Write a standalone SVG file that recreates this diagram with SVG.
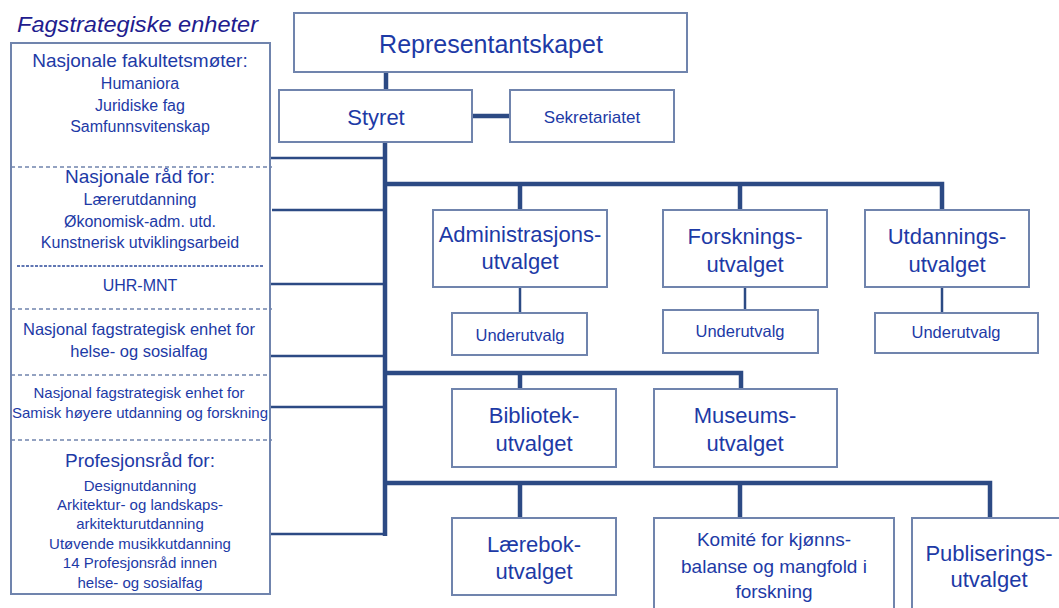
<svg xmlns="http://www.w3.org/2000/svg" width="1059" height="608" viewBox="0 0 1059 608">
<style>
.bx{fill:#fff;stroke:#7084ad;stroke-width:2}
.t{font-family:"Liberation Sans",Arial,sans-serif;fill:#1d3aa6;text-anchor:middle}
.thk{stroke:#2c4a84;stroke-width:4.5;fill:none}
.thn{stroke:#2c4a84;stroke-width:2.5;fill:none}
.ds{stroke:#7084ad;stroke-width:1.5;stroke-dasharray:4 3}
</style>
<rect width="1059" height="608" fill="#fff"/>
<g id="connectors">
<line class="thk" x1="386" y1="72" x2="386" y2="90"/>
<line class="thk" x1="472" y1="116" x2="510" y2="116"/>
<line class="thk" x1="385" y1="142" x2="385" y2="536"/>
<polyline class="thk" points="385,184 942,184 942,210"/>
<line class="thk" x1="520" y1="184" x2="520" y2="210"/>
<line class="thk" x1="740" y1="184" x2="740" y2="210"/>
<polyline class="thk" points="385,373 741,373 741,389"/>
<line class="thk" x1="520" y1="373" x2="520" y2="389"/>
<polyline class="thk" points="385,483 990,483 990,518"/>
<line class="thk" x1="520" y1="483" x2="520" y2="518"/>
<line class="thk" x1="740" y1="483" x2="740" y2="518"/>
<line class="thn" x1="520" y1="287" x2="520" y2="313"/>
<line class="thn" x1="745" y1="287" x2="745" y2="310"/>
<line class="thn" x1="942" y1="287" x2="942" y2="313"/>
<line class="thn" x1="270" y1="158" x2="385" y2="158"/>
<line class="thn" x1="272" y1="210" x2="385" y2="210"/>
<line class="thn" x1="270" y1="284" x2="385" y2="284"/>
<line class="thn" x1="270" y1="356" x2="385" y2="356"/>
<line class="thn" x1="270" y1="407" x2="385" y2="407"/>
<line class="thn" x1="270" y1="534" x2="385" y2="534"/>
</g>
<g id="fagstrategiske">
<text x="17" y="32" font-family="Liberation Sans,Arial,sans-serif" font-style="italic" font-size="22" fill="#221c8e" textLength="241" lengthAdjust="spacingAndGlyphs">Fagstrategiske enheter</text>
<rect class="bx" x="11" y="43" width="259" height="551"/>
<line class="ds" x1="11" y1="167" x2="272" y2="167"/>
<line x1="17" y1="266" x2="263" y2="266" stroke="#2c4a9a" stroke-width="1.5" stroke-dasharray="3 1.5"/>
<line class="ds" x1="11" y1="309" x2="272" y2="309"/>
<line class="ds" x1="11" y1="375" x2="270" y2="375"/>
<line class="ds" x1="11" y1="440" x2="272" y2="440"/>
<text class="t" x="140" y="67" font-size="19">Nasjonale fakultetsmøter:</text>
<text class="t" x="140" y="89" font-size="16">Humaniora</text>
<text class="t" x="140" y="111" font-size="16">Juridiske fag</text>
<text class="t" x="140" y="132" font-size="16">Samfunnsvitenskap</text>
<text class="t" x="140" y="183" font-size="19">Nasjonale råd for:</text>
<text class="t" x="140" y="205" font-size="16">Lærerutdanning</text>
<text class="t" x="140" y="227" font-size="16">Økonomisk-adm. utd.</text>
<text class="t" x="140" y="248" font-size="16">Kunstnerisk utviklingsarbeid</text>
<text class="t" x="140" y="291" font-size="16">UHR-MNT</text>
<text class="t" x="139" y="335" font-size="16.5">Nasjonal fagstrategisk enhet for</text>
<text class="t" x="139" y="357" font-size="16.5">helse- og sosialfag</text>
<text class="t" x="139" y="398" font-size="15">Nasjonal fagstrategisk enhet for</text>
<text class="t" x="140" y="418" font-size="15">Samisk høyere utdanning og forskning</text>
<text class="t" x="140" y="467" font-size="19">Profesjonsråd for:</text>
<text class="t" x="140" y="491" font-size="15">Designutdanning</text>
<text class="t" x="140" y="510" font-size="15">Arkitektur- og landskaps-</text>
<text class="t" x="140" y="529" font-size="15">arkitekturutdanning</text>
<text class="t" x="140" y="549" font-size="15">Utøvende musikkutdanning</text>
<text class="t" x="140" y="568" font-size="15">14 Profesjonsråd innen</text>
<text class="t" x="140" y="588" font-size="15">helse- og sosialfag</text>
</g>
<g id="representantskapet">
<rect class="bx" x="294" y="13" width="393" height="59"/>
<text class="t" x="491" y="53" font-size="25">Representantskapet</text>
</g>
<g id="styret">
<rect class="bx" x="279" y="90" width="193" height="52"/>
<text class="t" x="376" y="125" font-size="22">Styret</text>
</g>
<g id="sekretariatet">
<rect class="bx" x="510" y="90" width="164" height="52"/>
<text class="t" x="592" y="123" font-size="17">Sekretariatet</text>
</g>
<g id="administrasjonsutvalget">
<rect class="bx" x="433" y="210" width="174" height="77"/>
<text class="t" x="520" y="242" font-size="22">Administrasjons-</text>
<text class="t" x="520" y="269" font-size="22">utvalget</text>
</g>
<g id="admin-underutvalg">
<rect class="bx" x="452" y="313" width="135" height="42"/>
<text class="t" x="520" y="341" font-size="16.5">Underutvalg</text>
</g>
<g id="forskningsutvalget">
<rect class="bx" x="663" y="210" width="164" height="77"/>
<text class="t" x="745" y="244" font-size="22">Forsknings-</text>
<text class="t" x="745" y="272" font-size="22">utvalget</text>
</g>
<g id="forskning-underutvalg">
<rect class="bx" x="663" y="310" width="155" height="43"/>
<text class="t" x="740" y="337" font-size="16.5">Underutvalg</text>
</g>
<g id="utdanningsutvalget">
<rect class="bx" x="865" y="210" width="164" height="77"/>
<text class="t" x="947" y="244" font-size="22">Utdannings-</text>
<text class="t" x="947" y="272" font-size="22">utvalget</text>
</g>
<g id="utdanning-underutvalg">
<rect class="bx" x="875" y="313" width="163" height="40"/>
<text class="t" x="956" y="338" font-size="16.5">Underutvalg</text>
</g>
<g id="bibliotekutvalget">
<rect class="bx" x="452" y="389" width="164" height="78"/>
<text class="t" x="534" y="423" font-size="22">Bibliotek-</text>
<text class="t" x="534" y="451" font-size="22">utvalget</text>
</g>
<g id="museumsutvalget">
<rect class="bx" x="654" y="389" width="183" height="78"/>
<text class="t" x="745" y="423" font-size="22">Museums-</text>
<text class="t" x="745" y="451" font-size="22">utvalget</text>
</g>
<g id="lareboksutvalget">
<rect class="bx" x="452" y="518" width="164" height="77"/>
<text class="t" x="534" y="552" font-size="22">Lærebok-</text>
<text class="t" x="534" y="579" font-size="22">utvalget</text>
</g>
<g id="komite">
<rect class="bx" x="654" y="518" width="240" height="100"/>
<text class="t" x="774" y="546" font-size="19">Komité for kjønns-</text>
<text class="t" x="774" y="573" font-size="19">balanse og mangfold i</text>
<text class="t" x="774" y="598" font-size="19">forskning</text>
</g>
<g id="publiseringsutvalget">
<rect class="bx" x="912" y="518" width="160" height="100"/>
<text class="t" x="989" y="561" font-size="22">Publiserings-</text>
<text class="t" x="989" y="587" font-size="22">utvalget</text>
</g>
</svg>
